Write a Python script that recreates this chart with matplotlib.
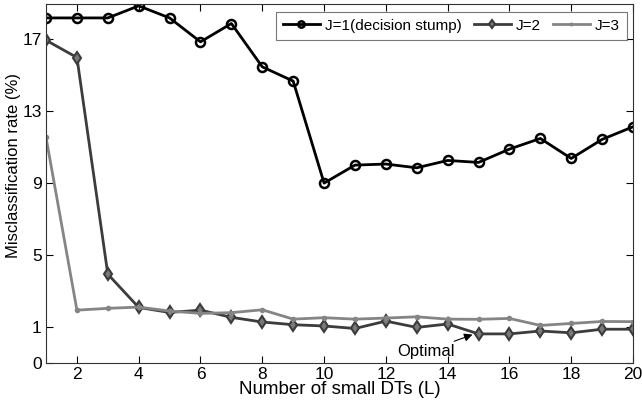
import numpy as np
import matplotlib
matplotlib.use("Agg")
import matplotlib.pyplot as plt

plt.rcParams['font.family'] = ['Liberation Sans', 'DejaVu Sans']

L = list(range(1, 21))
j1 = [18.18, 18.18, 18.18, 18.85, 18.18, 16.85, 17.87, 15.46, 14.67, 9.0,
      10.0, 10.06, 9.85, 10.26, 10.15, 10.89, 11.48, 10.37, 11.43, 12.13]
j2 = [16.94, 15.98, 3.94, 2.09, 1.81, 1.94, 1.54, 1.28, 1.13, 1.06,
      0.96, 1.33, 0.99, 1.17, 0.81, 0.81, 0.89, 0.84, 0.94, 0.94]
j3 = [11.54, 1.94, 2.04, 2.11, 1.89, 1.76, 1.80, 1.96, 1.44, 1.52,
      1.44, 1.50, 1.57, 1.44, 1.43, 1.48, 1.09, 1.20, 1.31, 1.30]
yticks = [0, 1, 5, 9, 13, 17]
xticks = [2, 4, 6, 8, 10, 12, 14, 16, 18, 20]

# y axis below 1 is stretched twice
def fwd(y):
    y = np.asarray(y, dtype=float)
    return np.where(y >= 1, y, 2 * y - 1)

def inv(y):
    y = np.asarray(y, dtype=float)
    return np.where(y >= 1, y, (y + 1) / 2)

fig = plt.figure(figsize=(6.42, 4.07), dpi=100)
ax = fig.add_axes([0.0717, 0.108, 0.9143, 0.882])
ax.set_yscale('function', functions=(fwd, inv))

ax.plot(L, j1, '-o', color='black', lw=2, ms=6.5, mfc='none', mew=1.8,
        label='J=1(decision stump)')
ax.plot(L, j2, '-d', color='#3c3c3c', lw=2, ms=6.5, mfc='#7a7a7a', mew=1.5,
        label='J=2')
ax.plot(L, j3, '-o', color='#858585', lw=2, ms=4, mfc='#858585', mew=0,
        label='J=3')

ax.annotate('Optimal', xy=(14.93, 0.83), xytext=(13.3, 0.32), fontsize=12,
            ha='center', va='center',
            arrowprops=dict(arrowstyle='-|>', color='black', lw=0.8,
                            shrinkA=0, shrinkB=3, mutation_scale=12))

ax.set_xlim(1, 20)
ax.set_ylim(0, 18.95)
ax.set_xticks(xticks)
ax.set_yticks(yticks)
ax.set_yticklabels([str(t) for t in yticks])
ax.tick_params(direction='in', top=True, right=True, labelsize=12.5,
               length=5, width=0.8, pad=3)
for s in ax.spines.values():
    s.set_linewidth(0.8)
    s.set_color('#333333')

ax.set_xlabel('Number of small DTs (L)', fontsize=13.5, labelpad=-1)
ax.set_ylabel('Misclassification rate (%)', fontsize=12)
ax.yaxis.set_label_coords(-0.043, 0.55)

leg = ax.legend(loc='upper right', ncol=3, fontsize=11, frameon=True,
                fancybox=False, edgecolor='#555555', handlelength=2.4,
                columnspacing=0.8, handletextpad=0.35, borderpad=0.45,
                markerscale=0.7, borderaxespad=0,
                bbox_to_anchor=(0.9898, 0.978))
leg.get_frame().set_linewidth(0.8)

fig.savefig('out.png', dpi=100)
